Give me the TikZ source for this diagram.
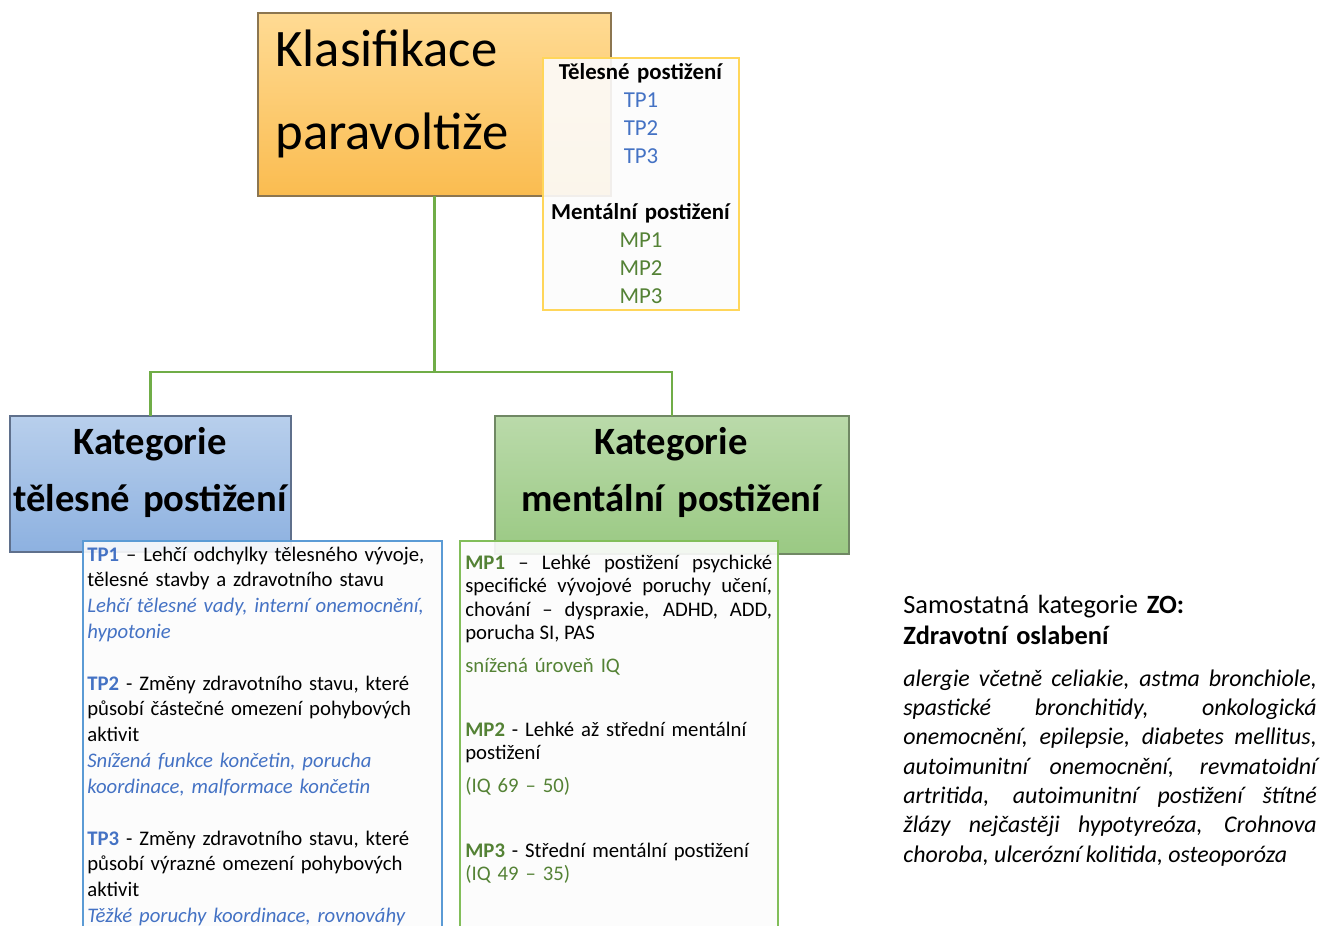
\documentclass[tikz,border=0pt]{standalone}
\usepackage{fontspec}
\setmainfont{Carlito}
\usetikzlibrary{positioning,calc}
\definecolor{klasTop}{RGB}{255,219,148}
\definecolor{klasBot}{RGB}{250,188,80}
\definecolor{klasLine}{RGB}{140,118,80}
\definecolor{telTop}{RGB}{184,207,236}
\definecolor{telBot}{RGB}{141,177,224}
\definecolor{telLine}{RGB}{95,112,140}
\definecolor{menTop}{RGB}{186,218,170}
\definecolor{menBot}{RGB}{154,201,131}
\definecolor{menLine}{RGB}{112,136,100}
\definecolor{tpColor}{RGB}{68,114,196}
\definecolor{mpColor}{RGB}{84,130,53}
\definecolor{wireGreen}{RGB}{112,173,71}
\definecolor{boxYellow}{RGB}{255,214,90}
\definecolor{boxBlue}{RGB}{91,155,213}
\definecolor{boxGreen}{RGB}{130,190,90}
\newcommand{\tpLab}[1]{\textcolor{tpColor}{\textbf{#1}}}
\newcommand{\mpLab}[1]{\textcolor{mpColor}{\textbf{#1}}}
\hyphenpenalty=10000
\exhyphenpenalty=10000
\tikzset{
	catbox/.style={draw, line width=0.8pt, inner sep=0, outer sep=0, anchor=north west},
	txtbox/.style={draw, line width=0.9pt, fill=white!99!black, fill opacity=0.9, inner sep=0, outer sep=0, anchor=north west},
	wire/.style={draw=wireGreen, line width=1.3pt},
	bodytext/.style={inner sep=0, anchor=base west, text width=#1, align=left, font=\fontsize{11.8}{14.7}\selectfont},
	bodytext/.default=190pt
}

\begin{document}
\begin{tikzpicture}[x=0.02cm, y=-0.02cm]
	\useasboundingbox (0,0) rectangle (1322,926);
	\clip (0,0) rectangle (1322,926);
	\node[catbox, draw=klasLine, top color=klasTop, bottom color=klasBot, minimum width=7.06cm, minimum height=3.66cm] (klas) at (258,13) {};
	\node[inner sep=0, anchor=base west, text width=7cm, align=left, font=\fontsize{30}{47}\selectfont] (klasText) at (275,67) {Klasifikace\\paravoltiže};

	\node[catbox, draw=telLine, top color=telTop, bottom color=telBot, minimum width=5.62cm, minimum height=2.72cm] (tel) at (10,416) {};
	\node[catbox, draw=menLine, top color=menTop, bottom color=menBot, minimum width=7.08cm, minimum height=2.76cm] (men) at (495,416) {};

	\coordinate (fork) at ($(klas.south)+(0,176)$);
	\draw[wire] (klas.south) -- (fork) -| (tel.north);
	\draw[wire] (fork) -| (men.north);

	\node[txtbox, draw=boxYellow, minimum width=3.92cm, minimum height=5.04cm] (legend) at (543,58) {};
	\node[inner sep=0, anchor=base, text width=3.8cm, align=center, font=\fontsize{13}{15.9}\selectfont] (legendText) at (641,80) {\textbf{Tělesné postižení}\\
		\textcolor{tpColor}{TP1}\\ \textcolor{tpColor}{TP2}\\ \textcolor{tpColor}{TP3}\\[15.9pt]
		\textbf{Mentální postižení}\\
		\textcolor{mpColor}{MP1}\\ \textcolor{mpColor}{MP2}\\ \textcolor{mpColor}{MP3}};

	\node[inner sep=0, anchor=base, text width=5.6cm, align=center, font=\fontsize{22}{33}\selectfont\bfseries] (telTitle) at (150,454) {Kategorie\\tělesné postižení};
	\node[inner sep=0, anchor=base, text width=7cm, align=center, font=\fontsize{22}{33}\selectfont\bfseries] (menTitle) at (671,454) {Kategorie\\mentální postižení};

	\node[txtbox, draw=boxBlue, minimum width=7.18cm, minimum height=8cm] (telBox) at (83,541) {};
	\node[txtbox, draw=boxGreen, minimum width=6.36cm, minimum height=8cm] (menBox) at (460,541) {};

	\node[bodytext=7cm] (telText) at (87,561) {\tpLab{TP1} -- Lehčí odchylky tělesného vývoje,\\
		tělesné stavby a zdravotního stavu\\
		\textcolor{tpColor}{\itshape Lehčí tělesné vady, interní onemocnění,}\\
		\textcolor{tpColor}{\itshape hypotonie}\\[14.7pt]
		\tpLab{TP2} - Změny zdravotního stavu, které\\
		působí částečné omezení pohybových\\
		aktivit\\
		\textcolor{tpColor}{\itshape Snížená funkce končetin, porucha}\\
		\textcolor{tpColor}{\itshape koordinace, malformace končetin}\\[14.7pt]
		\tpLab{TP3} - Změny zdravotního stavu, které\\
		působí výrazné omezení pohybových\\
		aktivit\\
		\textcolor{tpColor}{\itshape Těžké poruchy koordinace, rovnováhy}};

	\node[inner sep=0, anchor=base west, text width=174.6pt, align=justify, font=\fontsize{11.8}{13.4}\selectfont] (mp1Text) at (465,569) {\mpLab{MP1} -- Lehké postižení psychické\linebreak
		specifické vývojové poruchy učení,\linebreak
		chování -- dyspraxie, ADHD, ADD,\linebreak
		porucha SI, PAS};
	\node[bodytext] (mp1Iq) at (465,672) {\textcolor{mpColor}{snížená úroveň IQ}};
	\node[inner sep=0, anchor=base west, text width=174.6pt, align=left, font=\fontsize{11.8}{13.6}\selectfont] (mp2Text) at (465,736) {\mpLab{MP2} - Lehké až střední mentální\\postižení};
	\node[bodytext] (mp2Iq) at (465,792) {\textcolor{mpColor}{(IQ 69 -- 50)}};
	\node[bodytext] (mp3Text) at (465,857) {\mpLab{MP3} - Střední mentální postižení};
	\node[bodytext] (mp3Iq) at (465,880) {\textcolor{mpColor}{(IQ 49 -- 35)}};

	\node[inner sep=0, anchor=base west, text width=235.3pt, align=left, font=\fontsize{15}{18.2}\selectfont] (zoHead) at (903,613) {Samostatná kategorie \textbf{ZO:}\\\textbf{Zdravotní oslabení}};
	\node[inner sep=0, anchor=base west, text width=235.3pt, align=justify, font=\fontsize{13.6}{16.7}\selectfont\itshape] (zoText) at (903,686) {alergie včetně celiakie, astma bronchiole,\linebreak
		spastické bronchitidy, onkologická\linebreak
		onemocnění, epilepsie, diabetes mellitus,\linebreak
		autoimunitní onemocnění, revmatoidní\linebreak
		artritida, autoimunitní postižení štítné\linebreak
		žlázy nejčastěji hypotyreóza, Crohnova\linebreak
		choroba, ulcerózní kolitida, osteoporóza};
\end{tikzpicture}
\end{document}
